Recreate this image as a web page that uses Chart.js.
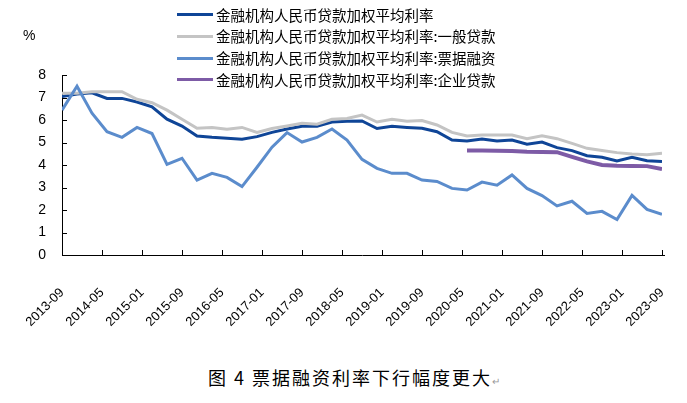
<!DOCTYPE html>
<html lang="zh">
<head>
<meta charset="utf-8">
<title>图4 票据融资利率下行幅度更大</title>
<script src="https://cdn.jsdelivr.net/npm/chart.js@4.4.0/dist/chart.umd.min.js"></script>
<style>
  html, body { margin: 0; padding: 0; background: #fff; }
  #wrap { position: relative; width: 687px; height: 403px; overflow: hidden; font-family: "Noto Sans CJK SC", sans-serif; color: #000; }
  #chartBox { position: absolute; left: 0; top: 0; }
  #unit { position: absolute; left: 23px; top: 27px; font: 14px "Liberation Sans", sans-serif; }
  #legend { position: absolute; left: 177px; top: 4px; }
  .row { display: flex; align-items: center; height: 21.7px; font-size: 14.5px; line-height: 1; }
  .swatch { width: 36px; height: 3px; margin-right: 3px; }
  #caption { position: absolute; left: 208px; top: 367px; font-size: 18px; letter-spacing: 2px; white-space: pre; line-height: 1.2; }
  #caption .mark { font-size: 10px; color: #999; letter-spacing: 0; }
</style>
</head>
<body>
<div id="wrap">
  <div id="chartBox"><canvas id="rateChart" width="687" height="340"></canvas></div>
  <div id="unit">%</div>
  <div id="legend"></div>
  <div id="caption">图 4 票据融资利率下行幅度更大<span class="mark">↵</span></div>
</div>
<script>
// ========================
// Daten (Quartalswerte, %)
// ========================
const quarterLabels = [
  '2013-09', '2013-12',
  '2014-03', '2014-06', '2014-09', '2014-12',
  '2015-03', '2015-06', '2015-09', '2015-12',
  '2016-03', '2016-06', '2016-09', '2016-12',
  '2017-03', '2017-06', '2017-09', '2017-12',
  '2018-03', '2018-06', '2018-09', '2018-12',
  '2019-03', '2019-06', '2019-09', '2019-12',
  '2020-03', '2020-06', '2020-09', '2020-12',
  '2021-03', '2021-06', '2021-09', '2021-12',
  '2022-03', '2022-06', '2022-09', '2022-12',
  '2023-03', '2023-06', '2023-09'
];

const tickLabels = [
  '2013-09', '2014-05', '2015-01', '2015-09', '2016-05', '2017-01', '2017-09', '2018-05',
  '2019-01', '2019-09', '2020-05', '2021-01', '2021-09', '2022-05', '2023-01', '2023-09'
];

const overallRate = [
  7.04, 7.16, 7.21, 6.96, 6.96, 6.80, 6.59, 6.04, 5.73, 5.29,
  5.23, 5.19, 5.14, 5.26, 5.45, 5.60, 5.72, 5.72, 5.91, 5.94,
  5.96, 5.62, 5.72, 5.67, 5.63, 5.48, 5.11, 5.07, 5.15, 5.07,
  5.11, 4.92, 5.02, 4.77, 4.64, 4.41, 4.34, 4.18, 4.34, 4.19,
  4.15
];

const generalLoanRate = [
  7.19, 7.19, 7.26, 7.26, 7.26, 6.92, 6.77, 6.44, 6.03, 5.63,
  5.67, 5.59, 5.67, 5.45, 5.62, 5.73, 5.85, 5.81, 6.03, 6.07,
  6.22, 5.91, 6.03, 5.94, 5.98, 5.78, 5.45, 5.29, 5.33, 5.33,
  5.33, 5.17, 5.30, 5.17, 4.96, 4.74, 4.64, 4.55, 4.49, 4.46,
  4.52
];

const billRate = [
  6.44, 7.50, 6.30, 5.48, 5.23, 5.67, 5.40, 4.03, 4.30, 3.33,
  3.63, 3.45, 3.04, 3.90, 4.79, 5.44, 5.02, 5.23, 5.60, 5.11,
  4.25, 3.85, 3.63, 3.63, 3.33, 3.27, 2.96, 2.89, 3.24, 3.10,
  3.56, 2.96, 2.64, 2.18, 2.39, 1.85, 1.94, 1.58, 2.65, 2.03,
  1.81
];

const enterpriseRate = [
  null, null, null, null, null, null, null, null, null, null,
  null, null, null, null, null, null, null, null, null, null,
  null, null, null, null, null, null, null, 4.64, 4.64, 4.63,
  4.62, 4.59, 4.58, 4.57, 4.36, 4.16, 4.00, 3.97, 3.96, 3.95,
  3.82
];

const seriesNames = [
  '金融机构人民币贷款加权平均利率',
  '金融机构人民币贷款加权平均利率:一般贷款',
  '金融机构人民币贷款加权平均利率:票据融资',
  '金融机构人民币贷款加权平均利率:企业贷款'
];

// ========================
// Hilfsfunktionen
// ========================
function monthIndex(label) {
  const [y, m] = label.split('-').map(Number);
  return (y - 2013) * 12 + (m - 9);
}

function toPoints(values) {
  return quarterLabels.map((l, i) => ({ x: monthIndex(l), y: values[i] }));
}

// Tick-Striche nach innen, wie im Original
const innerTicks = {
  id: 'innerTicks',
  afterDatasetsDraw(chart) {
    const { ctx, scales: { x, y } } = chart;
    ctx.save();
    ctx.strokeStyle = '#000';
    ctx.lineWidth = 1;
    ctx.beginPath();
    x.ticks.forEach(t => {
      const px = Math.round(x.getPixelForValue(t.value)) + 0.5;
      ctx.moveTo(px, y.bottom);
      ctx.lineTo(px, y.bottom - 5);
    });
    y.ticks.forEach(t => {
      const py = Math.round(y.getPixelForValue(t.value)) + 0.5;
      ctx.moveTo(x.left, py);
      ctx.lineTo(x.left + 5, py);
    });
    // Achse etwas über den letzten Tick hinaus
    ctx.moveTo(x.right, y.bottom + 0.5);
    ctx.lineTo(x.right + 3, y.bottom + 0.5);
    ctx.stroke();
    ctx.restore();
  }
};

// ========================
// Diagramm
// ========================
const colors = ['#0f4597', '#c4c4c4', '#5b8ccc', '#7d5ba6'];
const widths = [3, 3, 3, 4];
const allValues = [overallRate, generalLoanRate, billRate, enterpriseRate];
const drawOrder = [4, 3, 2, 1];

const datasets = allValues.map((vals, i) => ({
  label: seriesNames[i],
  data: toPoints(vals),
  borderColor: colors[i],
  backgroundColor: colors[i],
  borderWidth: widths[i],
  pointRadius: 0,
  tension: 0,
  spanGaps: false,
  order: drawOrder[i]
}));

new Chart(document.getElementById('rateChart'), {
  type: 'line',
  data: { datasets },
  options: {
    responsive: false,
    animation: false,
    layout: { padding: { top: 75, right: 25, left: 0, bottom: 0 } },
    plugins: { legend: { display: false }, tooltip: { enabled: false } },
    scales: {
      x: {
        type: 'linear',
        min: 0,
        max: 120,
        afterBuildTicks: scale => {
          scale.ticks = tickLabels.map(l => ({ value: monthIndex(l) }));
        },
        afterFit: scale => {
          scale.height = 85;
          scale.paddingLeft = 0;
          scale.paddingRight = 0;
        },
        grid: { display: false, drawTicks: false },
        border: { color: '#000', width: 1 },
        ticks: {
          autoSkip: false,
          maxRotation: 45,
          minRotation: 45,
          padding: 30,
          color: '#000',
          font: { family: 'Liberation Sans', size: 13 },
          callback: (value, index) => tickLabels[index]
        }
      },
      y: {
        min: 0,
        max: 8,
        afterFit: scale => { scale.width = 62; },
        grid: { display: false, drawTicks: false },
        border: { color: '#000', width: 1 },
        ticks: {
          stepSize: 1,
          padding: 16,
          color: '#000',
          font: { family: 'Liberation Sans', size: 14 }
        }
      }
    }
  },
  plugins: [innerTicks]
});

// ========================
// Legende
// ========================
const legendEl = document.getElementById('legend');
seriesNames.forEach((name, i) => {
  const row = document.createElement('div');
  row.className = 'row';
  const sw = document.createElement('span');
  sw.className = 'swatch';
  sw.style.background = colors[i];
  const txt = document.createElement('span');
  txt.textContent = name;
  row.appendChild(sw);
  row.appendChild(txt);
  legendEl.appendChild(row);
});
</script>
</body>
</html>
